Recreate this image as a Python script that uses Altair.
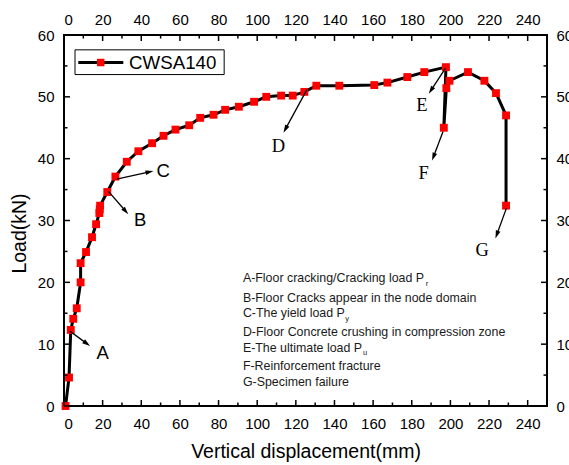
import math
import altair as alt
import pandas as pd

# ---------------- data ----------------
disp = [0.8, 2.6, 3.5, 4.8, 6.6, 8.6, 8.6, 11.4, 14.5, 16.6, 18.3, 18.5, 18.7,
        22.4, 26.6, 32.5, 38.5, 45.6, 51.5, 57.7, 64.8, 70.5, 77.4, 83.4, 90.5,
        98.4, 104.7, 112.4, 118.4, 124.4, 130.6, 142.5, 160.6, 167.4, 177.7,
        186.5, 197.7, 196.6, 197.9, 199.5, 209.1, 217.6, 223.6, 228.8, 228.8]
load = [0.0, 4.6, 12.3, 14.1, 15.8, 20.0, 23.1, 24.9, 27.3, 29.4, 31.2, 31.8, 32.4,
        34.6, 37.1, 39.5, 41.2, 42.5, 43.7, 44.7, 45.4, 46.6, 47.1, 47.9, 48.4,
        49.2, 50.0, 50.2, 50.2, 50.8, 51.8, 51.8, 51.9, 52.3, 53.2,
        54.0, 54.8, 45.0, 51.4, 52.6, 54.0, 52.6, 50.6, 47.0, 32.4]

series_name = "CWSA140"

arrow_label = ["A", "B", "C", "D", "E", "F", "G"]
arrow_x1 = [3.1, 23.0, 27.3, 125.8, 197.4, 196.2, 229.0]
arrow_y1 = [12.1, 34.7, 36.7, 51.2, 54.6, 44.4, 32.0]
arrow_x2 = [13.5, 33.3, 46.3, 113.6, 188.8, 190.5, 223.3]
arrow_y2 = [9.7, 31.0, 38.0, 44.2, 50.5, 39.7, 27.1]
label_x = [20.0, 39.4, 51.3, 111.0, 185.3, 186.2, 216.4]
label_y = [8.6, 30.1, 38.0, 42.1, 48.7, 37.7, 25.3]
label_serif = [False, False, False, True, True, True, True]

notes = ["A-Floor cracking/Cracking load P",
         "B-Floor Cracks appear in the node domain",
         "C-The yield load P",
         "D-Floor Concrete crushing in compression zone",
         "E-The ultimate load P",
         "F-Reinforcement fracture",
         "G-Specimen failure"]
notes_y = [20.65, 17.5, 15.0, 11.9, 9.4, 6.5, 3.9]
notes_x = 92.6
subs = ["r", "y", "u"]
subs_x = [187.9, 146.6, 155.8]
subs_y = [19.65, 14.07, 8.57]

x_major = list(range(0, 241, 20))
x_minor = list(range(10, 240, 20))
y_major = list(range(0, 61, 10))
y_minor = list(range(5, 60, 10))

# ---------------- geometry ----------------
W, H = 483, 371
XMAX, YMAX = 250, 60
pxx, pxy = W / XMAX, H / YMAX
FONT = "Liberation Sans"

xs = alt.Scale(domain=[0, XMAX], nice=False, zero=False)
ys = alt.Scale(domain=[0, YMAX], nice=False, zero=False)


def X(f, axis=None):
    return alt.X(f, type="quantitative", scale=xs, axis=axis)


def Y(f, axis=None):
    return alt.Y(f, type="quantitative", scale=ys, axis=axis)


df = pd.DataFrame({"d": disp, "p": load, "i": list(range(len(disp)))})

line = alt.Chart(df).mark_line(color="black", strokeWidth=3).encode(
    x=X("d", alt.Axis(orient="bottom", values=x_major, title="Vertical displacement(mm)",
                      labelPadding=10, titlePadding=11)),
    y=Y("p", alt.Axis(orient="left", values=y_major, title="Load(kN)",
                      labelPadding=10, titlePadding=8, titleY=198)),
    order="i:Q",
)
pts = alt.Chart(df).mark_point(shape="square", filled=True, color="#FF0000",
                               opacity=1, size=62).encode(x=X("d"), y=Y("p"))

# arrows
rows = []
for lab, x1, y1, x2, y2 in zip(arrow_label, arrow_x1, arrow_y1, arrow_x2, arrow_y2):
    dxp = (x2 - x1) * pxx
    dyp = -(y2 - y1) * pxy
    L = math.hypot(dxp, dyp)
    ux, uy = dxp / L, dyp / L
    ang = math.degrees(math.atan2(ux, -uy)) % 360
    hx = x2 - 4 * ux / pxx
    hy = y2 + 4 * uy / pxy
    rows.append({"lab": lab, "x1": x1, "y1": y1, "x2": x2, "y2": y2,
                 "hx": hx, "hy": hy, "ang": ang})
adf = pd.DataFrame(rows)

arr_lines = alt.Chart(adf).mark_rule(color="black", strokeWidth=1.3).encode(
    x=X("x1"), y=Y("y1"), x2="hx:Q", y2="hy:Q")
arr_heads = alt.Chart(adf).mark_point(shape="M0,-1L0.6,1L-0.6,1Z", filled=True,
                                      color="black", opacity=1, size=64).encode(
    x=X("hx"), y=Y("hy"), angle=alt.Angle("ang:Q", scale=None))

ldf = pd.DataFrame({"lab": arrow_label, "x": label_x, "y": label_y, "serif": label_serif})
lab_sans = alt.Chart(ldf).transform_filter("!datum.serif").mark_text(
    font=FONT, fontSize=18.5, color="black", align="center", baseline="middle").encode(
    x=X("x"), y=Y("y"), text="lab:N")
lab_serif = alt.Chart(ldf).transform_filter("datum.serif").mark_text(
    font="Liberation Serif", fontSize=18.5, color="black", align="center", baseline="middle").encode(
    x=X("x"), y=Y("y"), text="lab:N")

ndf = pd.DataFrame({"t": notes, "y": notes_y, "x": [notes_x] * len(notes)})
note_txt = alt.Chart(ndf).mark_text(font=FONT, fontSize=12.4, color="#1a1a1a",
                                     align="left", baseline="middle").encode(
    x=X("x"), y=Y("y"), text="t:N")
sdf = pd.DataFrame({"t": subs, "x": subs_x, "y": subs_y})
sub_txt = alt.Chart(sdf).mark_text(font=FONT, fontSize=7.5, color="#1a1a1a",
                                    align="center", baseline="middle").encode(
    x=X("x"), y=Y("y"), text="t:N")

# legend (drawn in data coordinates)
leg_box = alt.Chart(pd.DataFrame({"x": [5.7], "x2": [82.9], "y": [57.6], "y2": [53.6]})).mark_rect(
    fill="white", stroke="black", strokeWidth=1).encode(x=X("x"), x2="x2:Q", y=Y("y"), y2="y2:Q")
leg_line = alt.Chart(pd.DataFrame({"x": [7.4], "x2": [30.7], "y": [55.55]})).mark_rule(
    color="black", strokeWidth=3).encode(x=X("x"), x2="x2:Q", y=Y("y"))
leg_pt = alt.Chart(pd.DataFrame({"x": [19.0], "y": [55.55]})).mark_point(
    shape="square", filled=True, color="#FF0000", opacity=1, size=56).encode(x=X("x"), y=Y("y"))
leg_txt = alt.Chart(pd.DataFrame({"x": [33.7], "y": [55.55], "t": [series_name]})).mark_text(
    font=FONT, fontSize=18.7, color="black", align="left", baseline="middle").encode(
    x=X("x"), y=Y("y"), text="t:N")

# inward ticks + top/right axes
xmaj_df = pd.DataFrame({"v": x_major})
xmin_df = pd.DataFrame({"v": x_minor})
ymaj_df = pd.DataFrame({"v": y_major})
ymin_df = pd.DataFrame({"v": y_minor})
MAJ, MIN = 6, 3.5
tk = dict(color="black", strokeWidth=1.5)

t_xb = alt.Chart(xmaj_df).mark_rule(**tk).encode(x=X("v"), y=alt.value(H), y2=alt.value(H - MAJ))
t_xt = alt.Chart(xmaj_df).mark_rule(**tk).encode(
    x=X("v", alt.Axis(orient="top", values=x_major, title=None, labelPadding=8)),
    y=alt.value(0), y2=alt.value(MAJ))
t_xbm = alt.Chart(xmin_df).mark_rule(**tk).encode(x=X("v"), y=alt.value(H), y2=alt.value(H - MIN))
t_xtm = alt.Chart(xmin_df).mark_rule(**tk).encode(x=X("v"), y=alt.value(0), y2=alt.value(MIN))
t_yl = alt.Chart(ymaj_df).mark_rule(**tk).encode(y=Y("v"), x=alt.value(0), x2=alt.value(MAJ))
t_yr = alt.Chart(ymaj_df).mark_rule(**tk).encode(
    y=Y("v", alt.Axis(orient="right", values=y_major, title=None, labelPadding=9)),
    x=alt.value(W), x2=alt.value(W - MAJ))
t_ylm = alt.Chart(ymin_df).mark_rule(**tk).encode(y=Y("v"), x=alt.value(0), x2=alt.value(MIN))
t_yrm = alt.Chart(ymin_df).mark_rule(**tk).encode(y=Y("v"), x=alt.value(W), x2=alt.value(W - MIN))

chart = alt.layer(
    leg_box, line, pts, arr_lines, arr_heads, lab_sans, lab_serif, note_txt, sub_txt,
    leg_line, leg_pt, leg_txt,
    t_xb, t_xt, t_xbm, t_xtm, t_yl, t_yr, t_ylm, t_yrm,
).resolve_axis(x="independent", y="independent").properties(
    width=W, height=H,
    autosize=alt.AutoSizeParams(type="none"),
    padding={"left": 64, "top": 35, "right": 22, "bottom": 59},
    background="white",
).configure_view(stroke="black", strokeWidth=2).configure_axis(
    domain=False, ticks=False, tickSize=0, grid=False,
    labelFont=FONT, labelFontSize=15, labelColor="black",
    titleFont=FONT, titleFontSize=19.5, titleFontWeight="normal", titleColor="black",
)

chart.save("out.html", embed_options={"renderer": "svg", "actions": False})
